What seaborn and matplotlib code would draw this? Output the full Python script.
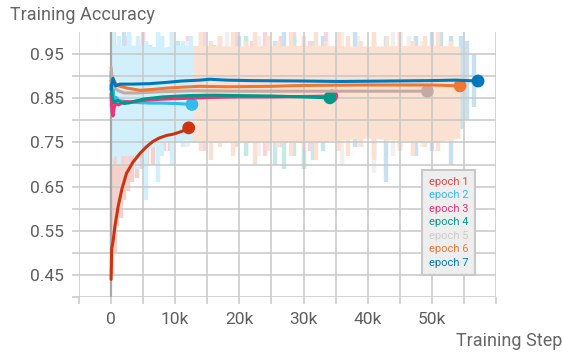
import matplotlib
matplotlib.use("Agg")
import matplotlib.pyplot as plt
from matplotlib.colors import to_rgb
from matplotlib.ticker import FixedLocator, FuncFormatter
import pandas as pd
import seaborn as sns

sns.set_theme(style="white")
plt.rcParams["font.family"] = ["Roboto", "DejaVu Sans"]

# ---- smoothed training accuracy per epoch run ----
ep1_steps = [0, 100, 300, 600, 1100, 1700, 2400, 3400, 4500, 5500, 6500, 7500, 8700, 9500, 10200, 11200, 12100]
ep1_acc = [0.44, 0.51, 0.525, 0.56, 0.605, 0.645, 0.68, 0.705, 0.725, 0.74, 0.752, 0.76, 0.766, 0.768, 0.771, 0.776, 0.783]

ep2_steps = [0, 50, 120, 200, 300, 500, 800, 1200, 2000, 3000, 4500, 6000, 8000, 10000, 11500, 12600]
ep2_acc = [0.91, 0.83, 0.90, 0.82, 0.87, 0.845, 0.852, 0.845, 0.843, 0.841, 0.840, 0.839, 0.839, 0.838, 0.837, 0.836]

ep3_steps = [0, 150, 300, 500, 800, 1200, 2000, 3000, 5000, 8000, 12000, 16000, 20000, 25000, 30000, 34400]
ep3_acc = [0.86, 0.82, 0.81, 0.83, 0.838, 0.835, 0.842, 0.842, 0.845, 0.848, 0.850, 0.852, 0.853, 0.853, 0.854, 0.855]

ep4_steps = [0, 200, 500, 1000, 2000, 3000, 5000, 8000, 12000, 16000, 20000, 25000, 30000, 34100]
ep4_acc = [0.88, 0.85, 0.84, 0.845, 0.838, 0.840, 0.848, 0.853, 0.856, 0.857, 0.856, 0.855, 0.853, 0.851]

ep5_steps = [0, 200, 500, 1000, 2000, 4000, 8000, 13000, 20000, 30000, 40000, 49300]
ep5_acc = [0.92, 0.89, 0.875, 0.868, 0.862, 0.862, 0.865, 0.867, 0.866, 0.866, 0.866, 0.866]

ep6_steps = [0, 300, 600, 1200, 2500, 4500, 6500, 8700, 11000, 13800, 18000, 25000, 30000, 40000, 50000, 54400]
ep6_acc = [0.89, 0.895, 0.885, 0.878, 0.873, 0.868, 0.870, 0.873, 0.875, 0.877, 0.876, 0.877, 0.879, 0.880, 0.880, 0.878]

ep7_steps = [0, 300, 700, 1400, 3400, 6000, 8700, 11000, 13800, 15400, 18000, 21600, 30000, 35600, 43400, 50000, 53800, 57200]
ep7_acc = [0.87, 0.895, 0.878, 0.882, 0.882, 0.883, 0.886, 0.889, 0.891, 0.893, 0.891, 0.890, 0.889, 0.888, 0.889, 0.890, 0.891, 0.889]

# ---- raw (unsmoothed) spread: streaks as step, low, high ----
ep1_raw_x = [200, 600, 1000, 1500, 2000, 2600, 3200, 4000, 4800, 5600, 6500, 7400, 8300, 9200, 10100, 11000, 11800]
ep1_raw_lo = [0.45, 0.50, 0.56, 0.58, 0.62, 0.64, 0.66, 0.67, 0.69, 0.70, 0.70, 0.72, 0.73, 0.73, 0.75, 0.75, 0.76]
ep1_raw_hi = [0.70, 0.74, 0.78, 0.80, 0.82, 0.84, 0.85, 0.86, 0.86, 0.87, 0.88, 0.88, 0.88, 0.89, 0.89, 0.89, 0.90]

ep2_band_x = [0, 500, 3000, 5000, 8000, 10000, 12600]
ep2_band_lo = [0.70, 0.72, 0.72, 0.73, 0.75, 0.75, 0.76]
ep2_band_hi = [0.99, 0.97, 0.97, 0.97, 0.965, 0.97, 0.97]
ep2_raw_x = [300, 1200, 2800, 4200, 5500, 7300, 8000, 9500, 11200, 12400]
ep2_raw_lo = [0.80, 0.70, 0.72, 0.69, 0.62, 0.66, 0.72, 0.70, 0.74, 0.75]
ep2_raw_hi = [1.00, 0.99, 1.00, 0.99, 0.98, 1.00, 0.99, 1.00, 0.98, 0.99]

ep3_raw_x = [500, 2500, 5000, 7500, 9500, 12000, 14500, 17000, 19500, 22000, 24000, 26500, 28500, 31000, 33500]
ep3_raw_lo = [0.72, 0.70, 0.73, 0.74, 0.72, 0.75, 0.73, 0.76, 0.74, 0.75, 0.72, 0.74, 0.76, 0.73, 0.75]
ep3_raw_hi = [1.00, 0.99, 1.00, 0.98, 1.00, 0.99, 1.00, 0.99, 1.00, 0.98, 1.00, 0.99, 1.00, 0.98, 1.00]

ep4_raw_x = [1500, 6000, 10500, 16000, 21000, 25500, 27000, 28500, 30000, 31500, 33000]
ep4_raw_lo = [0.75, 0.74, 0.76, 0.76, 0.72, 0.70, 0.69, 0.72, 0.69, 0.71, 0.73]
ep4_raw_hi = [0.96, 0.97, 0.98, 0.97, 0.99, 0.98, 0.97, 0.99, 0.96, 0.98, 0.97]

ep5_raw_x = [3000, 12000, 18000, 23000, 30000, 36000, 38500, 41000, 44000, 46500, 48500]
ep5_raw_lo = [0.76, 0.74, 0.75, 0.72, 0.76, 0.70, 0.74, 0.68, 0.72, 0.75, 0.74]
ep5_raw_hi = [0.99, 0.98, 1.00, 0.99, 0.98, 1.00, 0.99, 0.98, 1.00, 0.99, 0.98]

ep6_band_x = [12600, 20000, 30000, 40000, 50000, 54400]
ep6_band_lo = [0.75, 0.75, 0.75, 0.76, 0.75, 0.76]
ep6_band_hi = [0.97, 0.968, 0.97, 0.968, 0.97, 0.968]
ep6_raw_x = [14000, 15500, 17000, 19000, 21000, 22500, 24500, 26000, 28000, 30000, 32000, 33500,
             35500, 37000, 39000, 41000, 43000, 45000, 47000, 49000, 51000, 53000]
ep6_raw_lo = [0.73, 0.71, 0.74, 0.72, 0.75, 0.70, 0.73, 0.74, 0.72, 0.74, 0.71, 0.75,
              0.73, 0.72, 0.74, 0.71, 0.75, 0.73, 0.72, 0.74, 0.73, 0.75]
ep6_raw_hi = [1.00, 0.98, 0.99, 1.00, 0.98, 1.00, 0.99, 0.98, 1.00, 0.99, 1.00, 0.98,
              1.00, 0.99, 0.98, 1.00, 0.99, 1.00, 0.98, 0.99, 1.00, 0.98]

ep7_raw_x = [2000, 8000, 14000, 20000, 27000, 33000, 38000, 41000, 42800, 45000, 47500, 50000,
             51500, 53000, 54500, 55500, 56500]
ep7_raw_lo = [0.80, 0.78, 0.80, 0.79, 0.75, 0.78, 0.74, 0.72, 0.66, 0.74, 0.72, 0.73,
              0.78, 0.70, 0.78, 0.80, 0.83]
ep7_raw_hi = [1.00, 0.99, 1.00, 0.99, 1.00, 0.99, 1.00, 0.98, 0.99, 1.00, 0.99, 1.00,
              1.00, 0.99, 0.99, 0.98, 0.95]

x_major = [0, 10000, 20000, 30000, 40000, 50000]
x_minor = [-5000, 5000, 15000, 25000, 35000, 45000, 55000, 60000]
y_major = [0.45, 0.55, 0.65, 0.75, 0.85, 0.95]
y_minor = [0.40, 0.50, 0.60, 0.70, 0.80, 0.90]

labels = ["epoch 1", "epoch 2", "epoch 3", "epoch 4", "epoch 5", "epoch 6", "epoch 7"]
colors = ["#cc3311", "#33bbee", "#ee3377", "#009988", "#c4aaa2", "#ee7733", "#0077bb"]
raw_colors = ["#cc3311", "#33bbee", "#ee3377", "#009988", "#bbbbbb", "#ee7733", "#0077bb"]
legend_colors = ["#dd4444", "#33bbee", "#ee3377", "#009988", "#cccccc", "#ee7733", "#0077bb"]

smoothed = [(ep1_steps, ep1_acc), (ep2_steps, ep2_acc), (ep3_steps, ep3_acc), (ep4_steps, ep4_acc),
            (ep5_steps, ep5_acc), (ep6_steps, ep6_acc), (ep7_steps, ep7_acc)]
streaks = [(ep1_raw_x, ep1_raw_lo, ep1_raw_hi), (ep2_raw_x, ep2_raw_lo, ep2_raw_hi),
           (ep3_raw_x, ep3_raw_lo, ep3_raw_hi), (ep4_raw_x, ep4_raw_lo, ep4_raw_hi),
           (ep5_raw_x, ep5_raw_lo, ep5_raw_hi), (ep6_raw_x, ep6_raw_lo, ep6_raw_hi),
           (ep7_raw_x, ep7_raw_lo, ep7_raw_hi)]
bands = {1: (ep2_band_x, ep2_band_lo, ep2_band_hi), 5: (ep6_band_x, ep6_band_lo, ep6_band_hi)}


def tint(c, a):
    r, g, b = to_rgb(c)
    return (1 - a + a * r, 1 - a + a * g, 1 - a + a * b)


W, H = 563, 356
fig = plt.figure(figsize=(W / 100, H / 100), dpi=100)
ax = fig.add_axes([79 / W, 1 - 297 / H, (496 - 79) / W, (297 - 32) / H])

grid_c = "#c8c8c8"

# faint raw spread
raw_order = [0, 2, 3, 4, 6, 5, 1]
for i in raw_order:
    fc = tint(raw_colors[i], 0.22)
    if i in bands:
        bx, blo, bhi = bands[i]
        ax.fill_between(bx, blo, bhi, color=fc, lw=0, zorder=1)
    sx, slo, shi = streaks[i]
    ax.vlines(sx, slo, shi, color=fc, lw=3.2, zorder=1)

# grid drawn over the raw spread
for xv in x_major + x_minor:
    ax.axvline(xv, color=grid_c, lw=1.1, zorder=2)
for yv in y_major + y_minor:
    ax.axhline(yv, color=grid_c, lw=1.1, zorder=2)
ax.axvline(0, color="#a8a8a8", lw=1.6, zorder=2.2)

# smoothed curves with a marker at the last step
for i, ((steps, acc), lab, c) in enumerate(zip(smoothed, labels, colors)):
    df = pd.DataFrame({"step": steps, "acc": acc})
    sns.lineplot(data=df, x="step", y="acc", color=c, lw=2.2, ax=ax, zorder=3 + i,
                 estimator=None, sort=False, label=lab)
    sns.scatterplot(x=[steps[-1]], y=[acc[-1]], color=c, s=85, edgecolor="none", ax=ax, zorder=3 + i)

ax.set_xlim(-5000, 60000)
ax.set_ylim(0.40, 1.00)
for s in ax.spines.values():
    s.set_visible(False)
ax.grid(False)

ax.xaxis.set_major_locator(FixedLocator(x_major))
ax.xaxis.set_minor_locator(FixedLocator(x_minor))
ax.xaxis.set_major_formatter(FuncFormatter(lambda v, p: "0" if v == 0 else f"{int(v / 1000)}k"))
ax.yaxis.set_major_locator(FixedLocator(y_major))
ax.yaxis.set_minor_locator(FixedLocator(y_minor))
ax.yaxis.set_major_formatter(FuncFormatter(lambda v, p: f"{v:.2f}"))
ax.tick_params(which="both", length=5, width=1.1, color=grid_c, labelsize=12.5,
               labelcolor="#5f5f5f", pad=6, bottom=True, left=True)
ax.set_xlabel("")
ax.set_ylabel("")

fig.text(10 / W, 1 - 15 / H, "Training Accuracy", fontsize=13, color="#666666", va="center", ha="left")
fig.text(562 / W, 1 - 341 / H, "Training Step", fontsize=13, color="#666666", va="center", ha="right")

leg = ax.legend(loc="upper left", bbox_to_anchor=(422 / W, 1 - 170 / H), bbox_transform=fig.transFigure,
                fontsize=8, handlelength=0, handletextpad=0, labelspacing=0.32, borderpad=0.6,
                frameon=True, fancybox=False, framealpha=1, borderaxespad=0)
leg.get_frame().set_facecolor("#eeeeee")
leg.get_frame().set_edgecolor("#c8c8c8")
leg.get_frame().set_linewidth(1.5)
leg.set_zorder(50)
for h in leg.legend_handles:
    h.set_visible(False)
for t, c in zip(leg.get_texts(), legend_colors):
    t.set_color(c)

fig.savefig("out.png", dpi=100)
